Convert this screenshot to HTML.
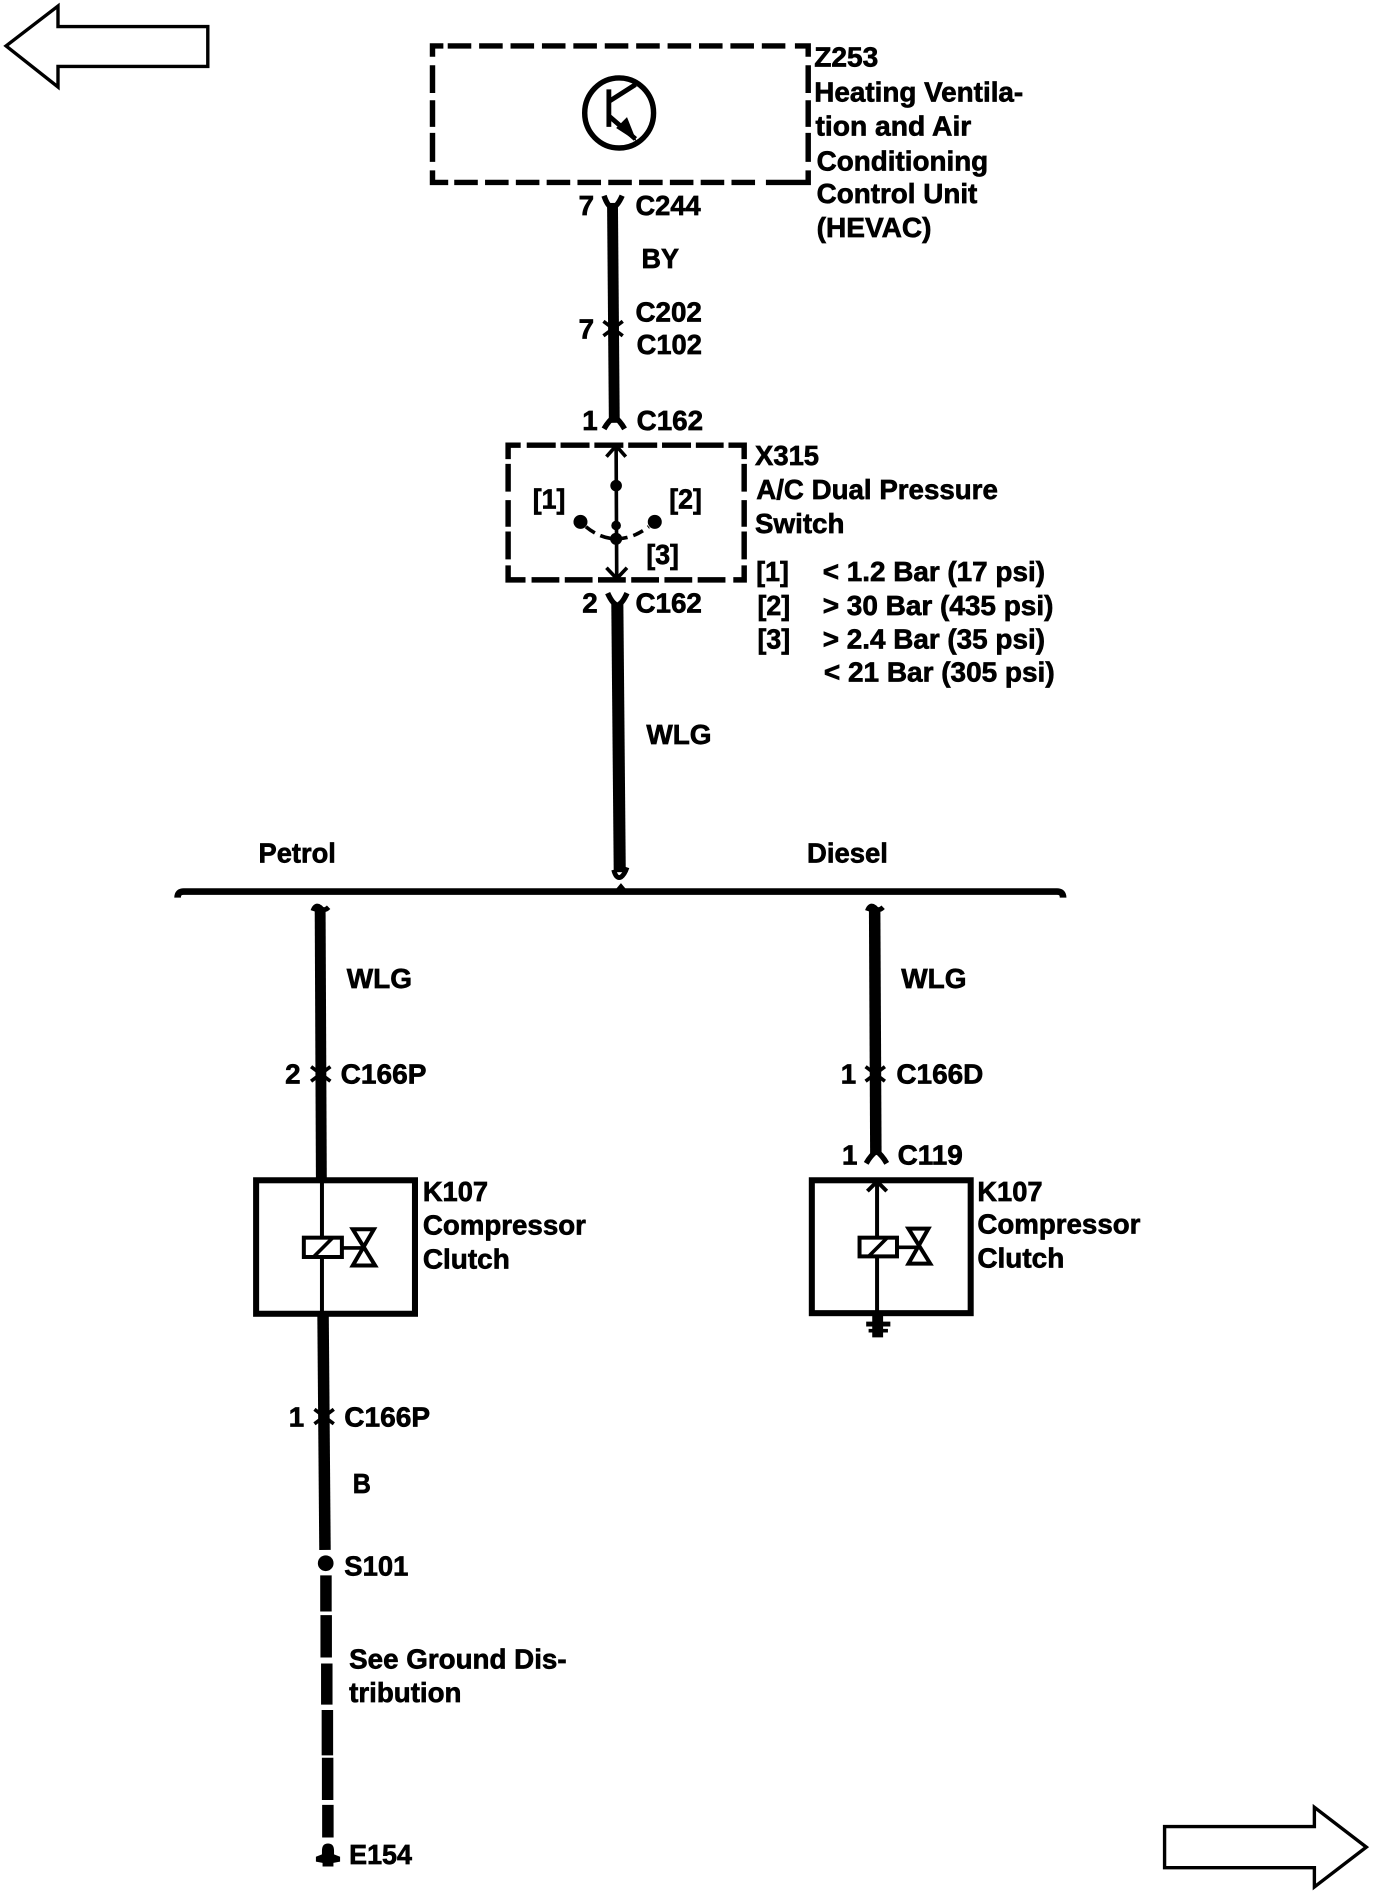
<!DOCTYPE html>
<html><head><meta charset="utf-8">
<style>
html,body{margin:0;padding:0;background:#fff;width:1376px;height:1894px;overflow:hidden}
svg{display:block}
text{font-family:"Liberation Sans",sans-serif;font-weight:700;font-size:23px;fill:#000;stroke:#000;stroke-width:.55px}
.n{fill:none;stroke:#000}
</style></head><body>
<svg xmlns="http://www.w3.org/2000/svg" width="1376" height="1894" viewBox="0 0 1139 1567.800">
<!-- page arrows -->
<polygon class="n" stroke-width="2.800" points="5,38 48,5 48,22 172,22 172,55 48,55 48,72"/>
<polygon class="n" stroke-width="2.800" points="1131,1529 1088,1496 1088,1512 964,1512 964,1546 1088,1546 1088,1562"/>

<!-- Z253 dashed box -->
<g class="n" fill="none" stroke="#000" stroke-width="4.500">
<path d="M358,47V38H367"/>
<path d="M370.600,38H651" stroke-dasharray="19.500 6.500"/>
<path d="M658,38H669V47"/>
<path d="M358,54V77M358,83V105M358,110V134M358,141V151H371"/>
<path d="M669,54V77M669,83V105M669,110V134M669,141V151H634"/>
<path d="M376,151H630" stroke-dasharray="19.500 6"/>
</g>
<ellipse class="n" cx="512.500" cy="93.500" rx="28.500" ry="29" stroke-width="4.500"/>
<path class="n" stroke-width="4" d="M504,74V105M504,84L526,70M504,96L526,115"/>
<polygon points="527,117 510,106 519,97"/>

<!-- BY wire -->
<path class="n" stroke-width="9" d="M507,168L508.500,350"/>
<path class="n" stroke-width="4.500" d="M500,162Q503,171 507,172Q511,171 515,162"/>
<path class="n" stroke-width="4.500" d="M500,355Q504,348 508.500,345Q513,348 517,355"/>
<path class="n" stroke-width="3" d="M499.500,266L515.500,278M515.500,266L499.500,278"/>

<!-- X315 dashed box -->
<g fill="none" stroke="#000" stroke-width="4.500">
<path d="M420.600,380V368.500H431"/>
<path d="M436,368.500H599" stroke-dasharray="24 4"/>
<path d="M603,368.500H616V380"/>
<path d="M420.600,384V407M420.600,414V436M420.600,440V463M420.600,468V480H435"/>
<path d="M616,384V407M616,414V436M616,440V463M616,468V480H607"/>
<path d="M440,480H601" stroke-dasharray="23 4.500"/>
</g>
<path class="n" stroke-width="3" d="M510,370L510.500,478M502,378L510,369L518,378M502,470L510.500,479L519,470"/>
<circle cx="510" cy="402" r="4.800"/><circle cx="510" cy="435" r="4"/><circle cx="510" cy="446" r="5"/>
<circle cx="480.500" cy="432" r="5.800"/><circle cx="542" cy="432" r="5.800"/>
<path class="n" stroke-width="3" stroke-dasharray="9 5" d="M485,436Q497,446 510,446Q524,446 537,436"/>

<!-- WLG wire -->
<path class="n" stroke-width="10" d="M511,500L513,722"/>
<path class="n" stroke-width="4.500" d="M503,491Q507,500 511,501Q515,500 519,491"/>
<path class="n" stroke-width="4" d="M508,720Q510,728 514,726Q517,724 519,718"/>

<!-- bus -->
<path class="n" stroke-width="5.500" d="M147,743Q147,738 152,738L875,738Q880,738 880,743"/>
<polygon points="509,737 514,731 519,737"/>

<!-- left wire -->
<path class="n" stroke-width="9" d="M265,752L266,976"/>
<path class="n" stroke-width="4" d="M259,754Q261,748 265,751Q268,755 272,751"/>
<path class="n" stroke-width="3" d="M257.500,883L273.500,895M273.500,883L257.500,895"/>
<!-- left K107 -->
<rect class="n" x="212" y="977" width="131.500" height="110.500" stroke-width="5"/>
<path class="n" stroke-width="3.300" d="M266.500,978V1086"/>
<rect x="251.500" y="1024.500" width="31.500" height="16" fill="#fff" stroke="#000" stroke-width="3.300"/>
<path class="n" stroke-width="3" d="M260,1040L275,1025M283,1033H300"/>
<path class="n" stroke-width="3.300" d="M292,1017.500H309.500L292,1047.500H310.500Z"/>

<!-- lower left wire -->
<path class="n" stroke-width="9.500" d="M267.400,1088L269,1283"/>
<path class="n" stroke-width="3" d="M260.300,1166.600L276.300,1178.600M276.300,1166.600L260.300,1178.600"/>
<circle cx="269.600" cy="1294" r="6.500"/>
<path class="n" stroke-width="9.500" d="M269.800,1304V1334M270,1337V1372M270.500,1377V1411M271,1415.500V1453M271.200,1455V1490M271.400,1494V1521"/>
<path d="M271.500,1526Q276.500,1526 276.500,1532L276.500,1535L281.500,1537V1541L276,1542V1545H267V1542L261.500,1541V1537L266.500,1535V1532Q266.500,1526 271.500,1526Z"/>

<!-- right wire -->
<path class="n" stroke-width="9.500" d="M724,752L725,956"/>
<path class="n" stroke-width="4" d="M718,754Q720,748 724,751Q727,755 731,751"/>
<path class="n" stroke-width="3" d="M716.500,883L732.500,895M732.500,883L716.500,895"/>
<path class="n" stroke-width="4.500" d="M717,963Q721,956 725.500,953Q730,956 734,963"/>
<!-- right K107 -->
<rect class="n" x="672" y="977" width="131.500" height="110" stroke-width="5"/>
<path class="n" stroke-width="3.300" d="M726,979V1086M718,986L726,978L734,986"/>
<rect x="711.500" y="1024.500" width="31" height="15.500" fill="#fff" stroke="#000" stroke-width="3.300"/>
<path class="n" stroke-width="3" d="M719,1040L734,1025M743,1032.500H760"/>
<path class="n" stroke-width="3.300" d="M752,1017H768.500L752,1046H770Z"/>
<path d="M722,1088H731V1107H722ZM717,1094H737V1098H717ZM719,1100H735V1103H719Z"/>

<!-- labels -->
<text x="674" y="55" textLength="53" lengthAdjust="spacingAndGlyphs">Z253</text>
<text x="674" y="84" textLength="173" lengthAdjust="spacingAndGlyphs">Heating Ventila-</text>
<text x="675" y="112" textLength="129" lengthAdjust="spacingAndGlyphs">tion and Air</text>
<text x="676" y="141" textLength="142" lengthAdjust="spacingAndGlyphs">Conditioning</text>
<text x="676" y="168" textLength="133" lengthAdjust="spacingAndGlyphs">Control Unit</text>
<text x="676" y="196" textLength="95" lengthAdjust="spacingAndGlyphs">(HEVAC)</text>
<text x="479" y="178">7</text>
<text x="526" y="178" textLength="54" lengthAdjust="spacingAndGlyphs">C244</text>
<text x="531" y="222" textLength="31" lengthAdjust="spacingAndGlyphs">BY</text>
<text x="526" y="266" textLength="55" lengthAdjust="spacingAndGlyphs">C202</text>
<text x="479" y="280">7</text>
<text x="527" y="293" textLength="54" lengthAdjust="spacingAndGlyphs">C102</text>
<text x="482" y="356">1</text>
<text x="527" y="356" textLength="55" lengthAdjust="spacingAndGlyphs">C162</text>
<text x="625" y="385" textLength="53" lengthAdjust="spacingAndGlyphs">X315</text>
<text x="626" y="413" textLength="200" lengthAdjust="spacingAndGlyphs">A/C Dual Pressure</text>
<text x="625" y="441" textLength="74" lengthAdjust="spacingAndGlyphs">Switch</text>
<text x="441" y="421" textLength="27" lengthAdjust="spacingAndGlyphs">[1]</text>
<text x="554" y="421" textLength="27" lengthAdjust="spacingAndGlyphs">[2]</text>
<text x="535" y="467" textLength="27" lengthAdjust="spacingAndGlyphs">[3]</text>
<text x="626" y="481" textLength="27" lengthAdjust="spacingAndGlyphs">[1]</text>
<text x="681" y="481" textLength="184" lengthAdjust="spacingAndGlyphs">&lt; 1.2 Bar (17 psi)</text>
<text x="627" y="509" textLength="27" lengthAdjust="spacingAndGlyphs">[2]</text>
<text x="681" y="509" textLength="191" lengthAdjust="spacingAndGlyphs">&gt; 30 Bar (435 psi)</text>
<text x="627" y="537" textLength="27" lengthAdjust="spacingAndGlyphs">[3]</text>
<text x="681" y="537" textLength="184" lengthAdjust="spacingAndGlyphs">&gt; 2.4 Bar (35 psi)</text>
<text x="682" y="564" textLength="191" lengthAdjust="spacingAndGlyphs">&lt; 21 Bar (305 psi)</text>
<text x="482" y="507">2</text>
<text x="526" y="507" textLength="55" lengthAdjust="spacingAndGlyphs">C162</text>
<text x="535" y="616" textLength="54" lengthAdjust="spacingAndGlyphs">WLG</text>
<text x="214" y="714" textLength="64" lengthAdjust="spacingAndGlyphs">Petrol</text>
<text x="668" y="714" textLength="67" lengthAdjust="spacingAndGlyphs">Diesel</text>
<text x="287" y="818" textLength="54" lengthAdjust="spacingAndGlyphs">WLG</text>
<text x="746" y="818" textLength="54" lengthAdjust="spacingAndGlyphs">WLG</text>
<text x="236" y="897">2</text>
<text x="282" y="897" textLength="71" lengthAdjust="spacingAndGlyphs">C166P</text>
<text x="696" y="897">1</text>
<text x="742" y="897" textLength="72" lengthAdjust="spacingAndGlyphs">C166D</text>
<text x="697" y="964">1</text>
<text x="743" y="964" textLength="54" lengthAdjust="spacingAndGlyphs">C119</text>
<text x="350" y="994" textLength="54" lengthAdjust="spacingAndGlyphs">K107</text>
<text x="350" y="1022" textLength="135" lengthAdjust="spacingAndGlyphs">Compressor</text>
<text x="350" y="1050" textLength="72" lengthAdjust="spacingAndGlyphs">Clutch</text>
<text x="809" y="994" textLength="54" lengthAdjust="spacingAndGlyphs">K107</text>
<text x="809" y="1021" textLength="135" lengthAdjust="spacingAndGlyphs">Compressor</text>
<text x="809" y="1049" textLength="72" lengthAdjust="spacingAndGlyphs">Clutch</text>
<text x="239" y="1181">1</text>
<text x="285" y="1181" textLength="71" lengthAdjust="spacingAndGlyphs">C166P</text>
<text x="292" y="1236" textLength="15" lengthAdjust="spacingAndGlyphs">B</text>
<text x="285" y="1304" textLength="53" lengthAdjust="spacingAndGlyphs">S101</text>
<text x="289" y="1381" textLength="180" lengthAdjust="spacingAndGlyphs">See Ground Dis-</text>
<text x="289" y="1409" textLength="93" lengthAdjust="spacingAndGlyphs">tribution</text>
<text x="289" y="1543" textLength="52" lengthAdjust="spacingAndGlyphs">E154</text>
</svg>
</body></html>
